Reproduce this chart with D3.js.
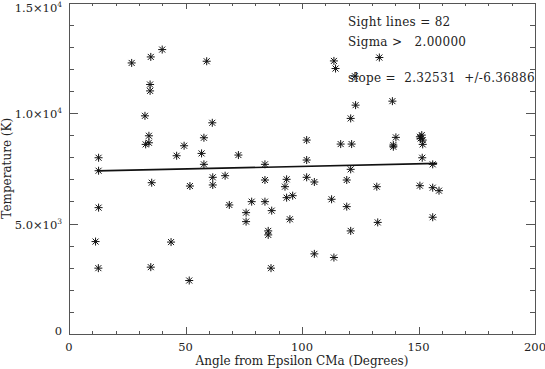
<!DOCTYPE html>
<meta charset="utf-8">
<head>
<style>
  body { margin: 0; background: #fff; }
  text { font-family: "DejaVu Serif", serif; fill: #222; }
  .axis path, .axis line { fill: none; stroke: #555; shape-rendering: crispEdges; }
  .star { stroke: #111; stroke-width: 1; fill: none; }
  .fit { stroke: #111; stroke-width: 1.6; fill: none; }
</style>
</head>
<body>
<script src="https://d3js.org/d3.v7.min.js"></script>
<script>
// angle from Epsilon CMa (degrees) and temperature (K) per sight line
var angle = [26.9, 35.1, 40.0, 34.8, 34.8, 32.6, 59.1, 113.7, 114.4, 133.2,
             122.7, 123.0, 120.9, 61.5, 138.8, 12.7, 12.7, 12.7, 11.4, 34.3,
             32.9, 34.3, 35.5, 46.2, 49.4, 51.9, 43.8, 57.9, 56.9, 72.7,
             57.9, 102.0, 102.0, 116.6, 121.3, 84.1, 120.9, 61.7, 61.7, 67.0,
             84.1, 93.4, 92.7, 102.0, 105.3, 119.2, 132.1, 68.8, 78.4, 84.1,
             93.4, 96.0, 112.7, 119.2, 76.0, 76.0, 87.0, 94.8, 132.5, 85.5,
             85.5, 120.9, 140.3, 139.2, 139.2, 150.6, 151.4, 151.8, 151.8, 151.6,
             156.1, 150.6, 156.1, 158.8, 156.1, 12.6, 35.1, 51.6, 86.7, 105.3,
             113.7, 150.9];
var temp = [12265, 12537, 12870, 11290, 11000, 9872, 12342, 12356, 12012, 12510,
            11665, 10355, 9755, 9556, 10536, 7975, 7388, 5717, 4182, 8969,
            8580, 8653, 6846, 8066, 8518, 6696, 4160, 8880, 8172, 8097,
            7677, 8775, 7872, 8594, 8594, 7677, 7451, 7090, 6743, 7163,
            6968, 6999, 6666, 7090, 6878, 6968, 6666, 5839, 5988, 5988,
            6169, 6259, 6096, 5764, 5491, 5085, 5582, 5193, 5050, 4665,
            4484, 4665, 8897, 8549, 8472, 8924, 9000, 8775, 8580, 7975,
            7677, 6711, 6621, 6485, 5284, 2980, 3025, 2420, 2980, 3626,
            3460, 8850];

// linear fit
var fitSlope = 2.32531, fitIntercept = 7352, fitRange = [12, 158];

var xMajor = [0, 50, 100, 150, 200];
var yMajor = [0, 5000, 10000, 15000];
var yTickMantissa = ["0", "5.0", "1.0", "1.5"];
var yTickExp = ["", "3", "4", "4"];

var notes = ["Sight lines = 82", "Sigma >   2.00000", "slope =  2.32531  +/-6.36886"];
var noteY = [26, 46, 82];

var W = 545, H = 369;
var pL = 69, pR = 535, pT = 2.5, pB = 334;

var x = d3.scaleLinear().domain([0, 200]).range([pL, pR]);
var y = d3.scaleLinear().domain([0, 15000]).range([pB, pT]);

var svg = d3.select("body").append("svg")
    .attr("width", W).attr("height", H);

var xMinor = d3.range(0, 201, 10).filter(function (v) { return v % 50 !== 0; });
var yMinor = d3.range(0, 15001, 1000).filter(function (v) { return v % 5000 !== 0; });

var xt = 6.6, yt = 9.3;

function drawAxis(axisFn, scale, major, minor, len, tr) {
    svg.append("g").attr("class", "axis").attr("transform", tr)
        .call(axisFn(scale).tickValues(major).tickSizeInner(-len).tickSizeOuter(0).tickFormat(""));
    svg.append("g").attr("class", "axis").attr("transform", tr)
        .call(axisFn(scale).tickValues(minor).tickSizeInner(-len / 2).tickSizeOuter(0).tickFormat(""));
}

drawAxis(d3.axisBottom, x, xMajor, xMinor, xt, "translate(0," + pB + ")");
drawAxis(d3.axisTop, x, xMajor, xMinor, xt, "translate(0," + pT + ")");
drawAxis(d3.axisLeft, y, yMajor, yMinor, yt, "translate(" + pL + ",0)");
drawAxis(d3.axisRight, y, yMajor, yMinor, yt, "translate(" + pR + ",0)");

// x tick labels
svg.selectAll(".xlab").data(xMajor).enter().append("text")
    .attr("x", function (d) { return x(d); })
    .attr("y", 351)
    .attr("text-anchor", "middle")
    .style("font-size", "11.5px")
    .text(function (d) { return d; });

// y tick labels with exponents (kept inside the page at the top)
yMajor.forEach(function (v, i) {
    var t = svg.append("text")
        .attr("x", pL - 7)
        .attr("y", yTickExp[i] ? Math.max(y(v) + 5, 12) : y(v) + 0.5)
        .attr("text-anchor", "end")
        .style("font-size", "11.5px");
    if (yTickExp[i]) {
        t.append("tspan").text(yTickMantissa[i] + "\u00d710");
        t.append("tspan").attr("dy", -5).style("font-size", "7.5px").text(yTickExp[i]);
    } else {
        t.text(yTickMantissa[i]);
    }
});

// axis titles
svg.append("text")
    .attr("x", (pL + pR) / 2).attr("y", 364.5)
    .attr("text-anchor", "middle")
    .style("font-size", "12px")
    .text("Angle from Epsilon CMa (Degrees)");

svg.append("text")
    .attr("transform", "translate(10.5," + ((pT + pB) / 2) + ") rotate(-90)")
    .attr("text-anchor", "middle")
    .style("font-size", "12px")
    .text("Temperature (K)");

// fit line
svg.append("line").attr("class", "fit")
    .attr("x1", x(fitRange[0])).attr("y1", y(fitIntercept + fitSlope * fitRange[0]))
    .attr("x2", x(fitRange[1])).attr("y2", y(fitIntercept + fitSlope * fitRange[1]));

// asterisks
var star = "M-4,0H4M0,-4V4M-3,-3L3,3M-3,3L3,-3";
svg.selectAll(".star").data(angle).enter().append("path")
    .attr("class", "star")
    .attr("transform", function (d, i) { return "translate(" + x(d) + "," + y(temp[i]) + ")"; })
    .attr("d", star);

// annotations
svg.selectAll(".note").data(notes).enter().append("text")
    .attr("x", 348)
    .attr("y", function (d, i) { return noteY[i]; })
    .attr("xml:space", "preserve")
    .style("white-space", "pre")
    .style("font-size", "12px")
    .style("letter-spacing", "0.3px")
    .text(function (d) { return d; });
</script>
</body>
